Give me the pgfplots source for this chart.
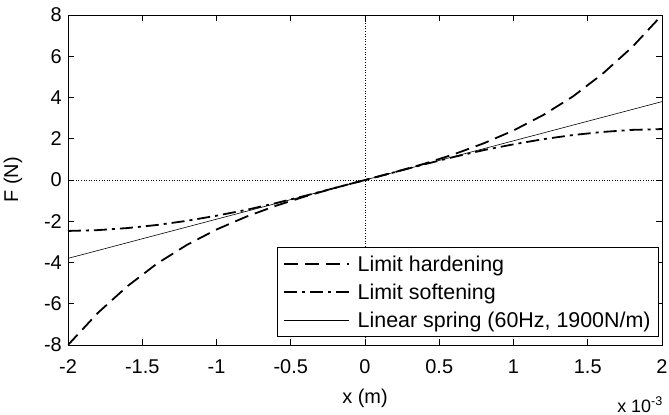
\documentclass[border=0pt]{standalone}
\usepackage{pgfplots}
\pgfplotsset{compat=1.18}
\usepackage{fontspec}
\setmainfont{Liberation Sans}
\begin{document}
\begin{tikzpicture}
\begin{axis}[
  scale only axis,
  width=594bp, height=330bp,
  xmin=-2, xmax=2, ymin=-8, ymax=8,
  xtick={-2,-1.5,...,2},
  xticklabels={-2,-1.5,-1,-0.5,0,0.5,1,1.5,2},
  ytick={-8,-6,...,8},
  yticklabels={-8,-6,-4,-2,0,2,4,6,8},
  tick align=inside,
  major tick length=6bp,
  axis line style={line width=1pt},
  every tick/.style={black, line width=0.6pt},
  tick label style={font=\fontsize{20}{24}\selectfont},
  xticklabel style={anchor=base, inner sep=0pt, yshift=-28bp},
  yticklabel style={anchor=east, inner sep=0pt, xshift=-6bp},
  label style={font=\fontsize{20}{24}\selectfont},
  xlabel={x (m)},
  ylabel={F (N)},
  xlabel style={at={(axis description cs:0.5,-0.1606)}, anchor=center},
  ylabel style={at={(axis description cs:-0.0926,0.5)}, anchor=center},
  legend style={at={(1,0)}, anchor=south east, xshift=-3bp, yshift=8bp,
    font=\fontsize{21.5}{24}\selectfont, draw=black, line width=0.8pt,
    inner xsep=6bp, inner ysep=6bp, row sep=7bp, column sep=6bp,
    cells={anchor=west}},
  legend cell align=left,
  legend image code/.code={\draw[#1] (0bp,0bp) -- (65bp,0bp);},
  clip=true,
]
\draw[black, dotted, line width=0.6pt] (axis cs:0,-8) -- (axis cs:0,8);
\draw[black, dotted, line width=0.6pt] (axis cs:-2,0) -- (axis cs:2,0);
\addplot[black, line width=1.8pt, dash pattern=on 14bp off 7bp] coordinates {
(-2,-8.0) (-1.8,-6.45) (-1.6,-5.15) (-1.4,-4.05) (-1.2,-3.15) (-1.0,-2.4)
(-0.8,-1.78) (-0.6,-1.25) (-0.4,-0.79) (-0.2,-0.38) (0,0)
(0.2,0.38) (0.4,0.79) (0.6,1.25) (0.8,1.78) (1.0,2.4) (1.2,3.15)
(1.4,4.05) (1.6,5.15) (1.8,6.45) (2.0,8.0)};
\addlegendentry{Limit hardening}
\addplot[black, line width=1.8pt, dash pattern=on 13bp off 5bp on 3bp off 5bp] coordinates {
(-2,-2.47) (-1.8,-2.43) (-1.6,-2.33) (-1.4,-2.18) (-1.2,-1.98) (-1.0,-1.73)
(-0.8,-1.45) (-0.6,-1.12) (-0.4,-0.76) (-0.2,-0.38) (0,0)
(0.2,0.38) (0.4,0.76) (0.6,1.12) (0.8,1.45) (1.0,1.73) (1.2,1.98)
(1.4,2.18) (1.6,2.33) (1.8,2.43) (2.0,2.47)};
\addlegendentry{Limit softening}
\addplot[black, line width=0.6pt] coordinates {(-2,-3.8) (0,0) (2,3.8)};
\addlegendentry{Linear spring (60Hz, 1900N/m)}
\end{axis}
\node[font=\fontsize{18}{20}\selectfont, anchor=base east, inner sep=0pt] at (595bp,-67bp) {x 10\textsuperscript{-3}};
\pgfresetboundingbox
\path (-68bp,-70bp) rectangle (601bp,345bp);
\end{tikzpicture}
\end{document}
